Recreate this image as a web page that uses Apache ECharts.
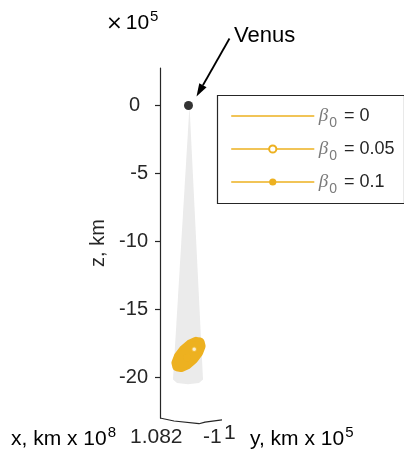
<!DOCTYPE html>
<html>
<head>
<meta charset="utf-8">
<script src="https://cdn.jsdelivr.net/npm/echarts@6/dist/echarts.min.js"></script>
<style>
  html, body { margin: 0; padding: 0; background: #fff; }
  #chart { width: 404px; height: 466px; }
</style>
</head>
<body>
<div id="chart"></div>
<script>
// Projected view of the debris cloud below Venus (z in units of 1e5 km).
// Horizontal coordinate h is the projected screen direction of the x/y plane.
const zTicks = [-20, -15, -10, -5, 0];
const zRange = [-22.98, 2.76];
const hRange = [0, 24];

const venus = [2.85, 0];

// light grey shadow cone behind the planet
const shadowCone = [
  [2.95, 0], [1.3, -20.15], [1.7, -20.4], [2.8, -20.5], [3.9, -20.4], [4.3, -20.15]
];

// end positions of the particle trajectories for each initial beta
const beta0Names = ['β0 = 0', 'β0 = 0.05', 'β0 = 0.1'];
const beta0Labels = ['0', '0.05', '0.1'];
const cloudBeta000 = [
  [4.01, -17.40], [4.11, -17.69], [3.87, -18.16], [3.36, -18.66], [2.72, -19.07],
  [2.11, -19.27], [1.69, -19.22], [1.59, -18.92], [1.83, -18.46], [2.34, -17.96],
  [2.99, -17.55], [3.60, -17.34], [4.01, -17.40]
];
const cloudBeta005 = [
  [3.72, -17.66], [3.71, -18.01], [3.23, -18.53], [2.56, -18.92], [2.08, -18.95],
  [2.09, -18.60], [2.57, -18.08], [3.24, -17.70], [3.72, -17.66]
];
const cloudBeta010 = [
  [3.20, -18.05], [3.25, -18.22], [2.95, -18.52], [2.52, -18.79], [2.26, -18.85],
  [2.31, -18.65], [2.65, -18.32], [3.00, -18.08], [3.20, -18.05]
];
const markerBeta005 = [3.42, -17.92];
const markerBeta010 = [2.70, -18.55];

// base of the 3-D box (x and y axes seen nearly edge-on)
const boxBase = [[0, -22.98], [1.4, -23.2], [3.9, -23.4], [4.5, -23.28], [6.2, -23.12]];

const ORANGE = '#EDB120';
const TEXT = '#262626';
const FONT = '"Liberation Sans", Arial, Helvetica, sans-serif';

const chart = echarts.init(document.getElementById('chart'), null, { renderer: 'canvas' });

function cloudSeries(name, data, symbol, z) {
  return {
    name: name,
    type: 'line',
    data: data,
    symbol: symbol,
    showSymbol: false,
    clip: false,
    z: z,
    lineStyle: { color: ORANGE, width: 9, cap: 'round', join: 'round' },
    itemStyle: { color: ORANGE },
    emphasis: { disabled: true },
    silent: true,
    animation: false
  };
}

const series = [
  {
    name: 'cone',
    type: 'custom',
    z: 1,
    silent: true,
    animation: false,
    data: [0],
    renderItem: function (params, api) {
      const pts = shadowCone.map(p => api.coord(p));
      return { type: 'polygon', shape: { points: pts, smooth: 0 }, style: { fill: '#ebebeb' } };
    }
  },
  cloudSeries(beta0Names[0], cloudBeta000, 'none', 3),
  cloudSeries(beta0Names[1], cloudBeta005, 'emptyCircle', 4),
  cloudSeries(beta0Names[2], cloudBeta010, 'circle', 3),
  {
    name: 'm005',
    type: 'scatter',
    data: [markerBeta005],
    symbol: 'circle',
    symbolSize: 5,
    itemStyle: { color: '#ffffff', borderColor: ORANGE, borderWidth: 1.5 },
    z: 6, silent: true, animation: false
  },
  {
    name: 'm010',
    type: 'scatter',
    data: [markerBeta010],
    symbol: 'circle',
    symbolSize: 7,
    itemStyle: { color: ORANGE },
    z: 5, silent: true, animation: false
  },
  {
    name: 'Venus',
    type: 'scatter',
    data: [venus],
    symbol: 'circle',
    symbolSize: 9,
    itemStyle: { color: '#000' },
    z: 7, silent: true, animation: false
  },
  {
    name: 'box',
    type: 'line',
    data: boxBase,
    symbol: 'none',
    clip: false,
    lineStyle: { color: TEXT, width: 1.2 },
    z: 2, silent: true, animation: false
  }
];

const legendRich = {
  b: { fontFamily: '"Liberation Serif", "DejaVu Serif", serif', fontStyle: 'italic', fontSize: 19, color: '#7a7a7a', lineHeight: 24 },
  s: { fontFamily: FONT, fontSize: 14, color: '#7a7a7a', padding: [14, 0, 0, 1], lineHeight: 24 },
  t: { fontFamily: FONT, fontSize: 18, color: TEXT, lineHeight: 24, padding: [0, 0, 0, 7] }
};

chart.setOption({
  animation: false,
  grid: { left: 160, top: 68, width: 240, height: 350 },
  xAxis: {
    type: 'value', min: hRange[0], max: hRange[1], show: false
  },
  yAxis: {
    type: 'value',
    min: zRange[0],
    max: zRange[1],
    splitLine: { show: false },
    axisLine: { show: true, lineStyle: { color: TEXT, width: 1.2 } },
    axisTick: { show: true, customValues: zTicks, length: 5, lineStyle: { color: TEXT, width: 1.2 } },
    axisLabel: {
      customValues: zTicks,
      margin: 12,
      fontFamily: FONT,
      fontSize: 20,
      color: TEXT,
      formatter: v => (v === 0 ? '{p|0}' : String(v)),
      rich: { p: { fontFamily: FONT, fontSize: 20, color: TEXT, padding: [0, 8, 0, 0] } }
    },
    name: 'z, km',
    nameLocation: 'middle',
    nameRotate: 90,
    nameGap: 52,
    nameTextStyle: { fontFamily: FONT, fontSize: 20, color: TEXT }
  },
  legend: {
    left: 231,
    top: 102,
    orient: 'vertical',
    padding: 0,
    itemWidth: 82,
    itemHeight: 9,
    itemGap: 5,
    data: [
      { name: beta0Names[0], itemStyle: { opacity: 0 } },
      { name: beta0Names[1] },
      { name: beta0Names[2] }
    ],
    lineStyle: { width: 1.5 },
    formatter: function (name) {
      const i = beta0Names.indexOf(name);
      return '{b|β}{s|0}{t|= ' + beta0Labels[i] + '}';
    },
    textStyle: { rich: legendRich },
    selectedMode: false
  },
  series: series
});

// annotation arrow, axis multipliers and edge-on axis labels
const vp = chart.convertToPixel({ gridIndex: 0 }, venus);
const tip = [vp[0] + 8, vp[1] - 9];
const tail = [vp[0] + 41, vp[1] - 67];
const dx = tip[0] - tail[0], dy = tip[1] - tail[1];
const len = Math.sqrt(dx * dx + dy * dy);
const ux = dx / len, uy = dy / len;
const hl = 13, hw = 4.2;
const bx = tip[0] - ux * hl, by = tip[1] - uy * hl;

const supRich = {
  m: { fontFamily: FONT, fontSize: 21, color: TEXT },
  x: { fontFamily: '"DejaVu Sans", sans-serif', fontSize: 20, color: '#8a8a8a', padding: [0, 3, 0, 0] },
  u: { fontFamily: FONT, fontSize: 15, color: TEXT, padding: [0, 0, 14, 1] }
};

chart.setOption({
  graphic: [
    {
      type: 'rect', left: 215, top: 93, z: 10, silent: true,
      shape: { width: 187, height: 108 },
      style: { fill: 'none', stroke: '#262626', lineWidth: 1.2 }
    },
    {
      type: 'line', z: 20, silent: true,
      shape: { x1: tail[0], y1: tail[1], x2: bx, y2: by },
      style: { stroke: '#000', lineWidth: 1.8 }
    },
    {
      type: 'polygon', z: 20, silent: true,
      shape: { points: [tip, [bx - uy * hw, by + ux * hw], [bx + uy * hw, by - ux * hw]] },
      style: { fill: '#000' }
    },
    {
      type: 'text', left: 234, top: 25, z: 20, silent: true,
      style: { text: 'Venus', font: '22px ' + FONT, fill: '#000' }
    },
    {
      type: 'text', left: 106, top: 9, z: 20, silent: true,
      style: { text: '{x|×}{m|10}{u|5}', rich: supRich }
    },
    {
      type: 'text', left: 11, top: 425, z: 20, silent: true,
      style: { text: '{m|x, km x 10}{u|8}', rich: supRich }
    },
    {
      type: 'text', left: 130, top: 427, z: 20, silent: true,
      style: { text: '1.082', font: '21px ' + FONT, fill: TEXT }
    },
    {
      type: 'text', left: 203, top: 427, z: 20, silent: true,
      style: { text: '-1', font: '21px ' + FONT, fill: TEXT }
    },
    {
      type: 'text', left: 224, top: 423, z: 20, silent: true,
      style: { text: '1', font: '21px ' + FONT, fill: TEXT }
    },
    {
      type: 'text', left: 250, top: 425, z: 20, silent: true,
      style: { text: '{m|y, km x 10}{u|5}', rich: supRich }
    }
  ]
});
</script>
</body>
</html>
